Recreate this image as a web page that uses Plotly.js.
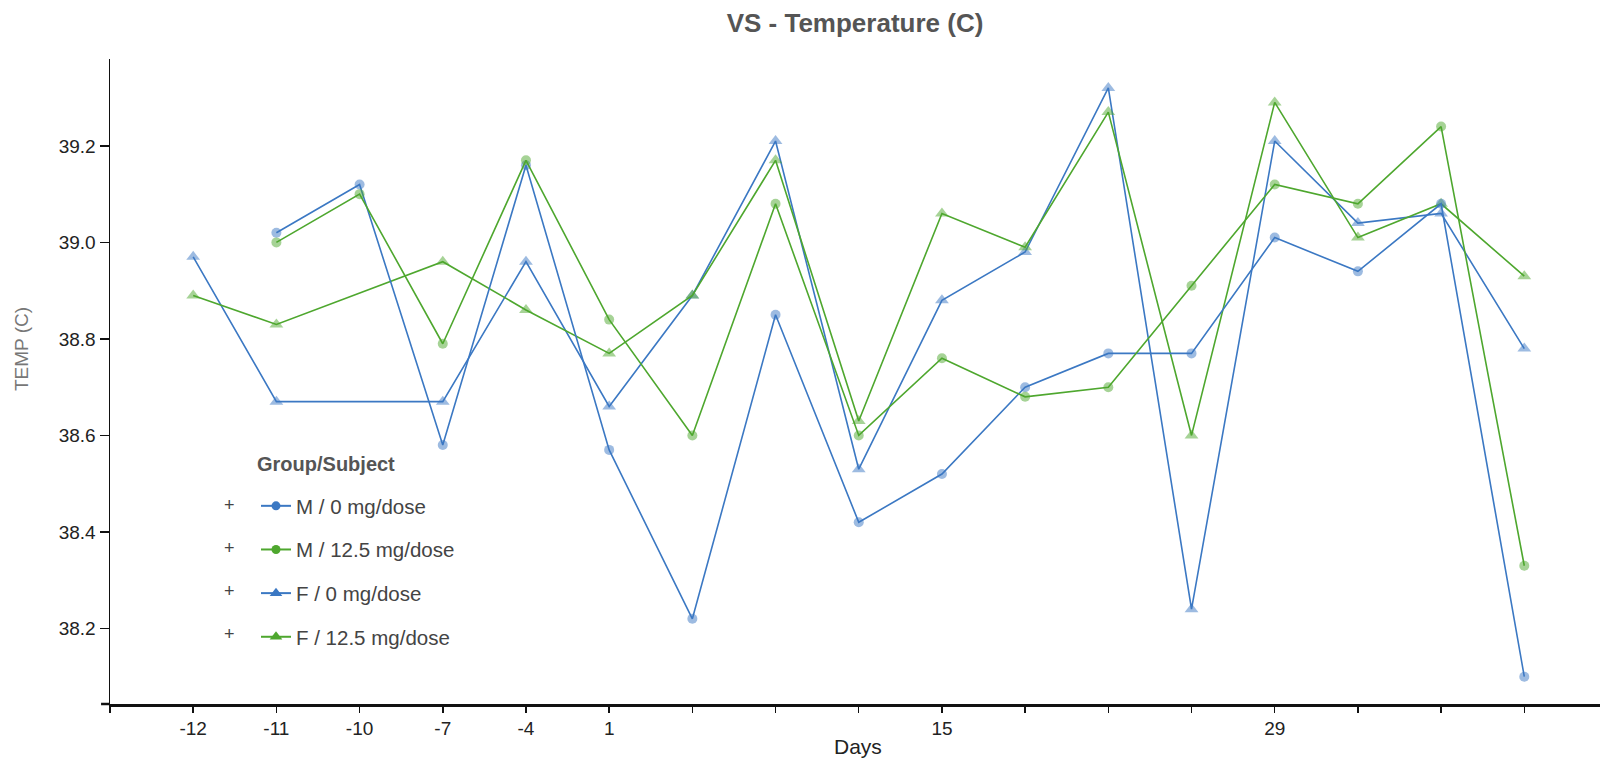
<!DOCTYPE html>
<html>
<head>
<meta charset="utf-8">
<script src="https://cdn.plot.ly/plotly-3.0.1.min.js"></script>
<style>html,body{margin:0;padding:0;background:#fff;}#chart{width:1600px;height:763px;}</style>
</head>
<body>
<div id="chart"></div>
<script>
// Day categories (only some carry a visible label in the original)
var dayLabels = ["-12","-11","-10","-7","-4","1","","","","15","","","","29","","",""];
// Series values (TEMP, C); null = no measurement at that day
var m0   = [null, 39.02, 39.12, 38.58, 39.16, 38.57, 38.22, 38.85, 38.42, 38.52, 38.70, 38.77, 38.77, 39.01, 38.94, 39.08, 38.10];
var m125 = [null, 39.00, 39.10, 38.79, 39.17, 38.84, 38.60, 39.08, 38.60, 38.76, 38.68, 38.70, 38.91, 39.12, 39.08, 39.24, 38.33];
var f0   = [38.97, 38.67, null, 38.67, 38.96, 38.66, 38.89, 39.21, 38.53, 38.88, 38.98, 39.32, 38.24, 39.21, 39.04, 39.06, 38.78];
var f125 = [38.89, 38.83, null, 38.96, 38.86, 38.77, 38.89, 39.17, 38.63, 39.06, 38.99, 39.27, 38.60, 39.29, 39.01, 39.08, 38.93];
var seriesNames = ["M / 0 mg/dose", "M / 12.5 mg/dose", "F / 0 mg/dose", "F / 12.5 mg/dose"];
var yTickVals = [38.2, 38.4, 38.6, 38.8, 39.0, 39.2];
var yTickText = ["38.2", "38.4", "38.6", "38.8", "39.0", "39.2"];

var BLUE = "#3b78c3", GREEN = "#4ea72e";
var FONT = "Liberation Sans, Arial, sans-serif";
var xpos = dayLabels.map(function(_, i){ return i + 1; });

function dataTrace(y, color, symbol, size){
  return {x: xpos, y: y, type: "scatter", mode: "lines+markers", connectgaps: true,
    showlegend: false, hoverinfo: "x+y",
    line: {color: color, width: 1.6},
    marker: {color: color, symbol: symbol, size: size, opacity: 0.5}};
}
function legendTrace(name, color, symbol, size){
  return {x: [null], y: [null], type: "scatter", mode: "lines+markers", name: name,
    legendgroup: name, showlegend: true,
    line: {color: color, width: 2}, marker: {color: color, symbol: symbol, size: size}};
}

var traces = [
  dataTrace(f0, BLUE, "triangle-up", 12),
  dataTrace(f125, GREEN, "triangle-up", 12),
  dataTrace(m0, BLUE, "circle", 10),
  dataTrace(m125, GREEN, "circle", 10),
  legendTrace(seriesNames[0], BLUE, "circle", 9),
  legendTrace(seriesNames[1], GREEN, "circle", 9),
  legendTrace(seriesNames[2], BLUE, "triangle-up", 11),
  legendTrace(seriesNames[3], GREEN, "triangle-up", 11)
];

var tickvals = [0].concat(xpos);
var ticktext = [""].concat(dayLabels);

function px2x(px){ return (px - 110) / 1490; }
function py2y(py){ return (704 - py) / 645; }

var plusAnn = [0,1,2,3].map(function(i){
  return {xref: "paper", yref: "paper", x: px2x(229), y: py2y(505 + i*43),
    text: "+", showarrow: false, font: {family: FONT, size: 18, color: "#444"},
    xanchor: "center", yanchor: "middle"};
});

var layout = {
  width: 1600, height: 763,
  margin: {l: 110, r: 0, t: 59, b: 59},
  paper_bgcolor: "#fff", plot_bgcolor: "#fff",
  font: {family: FONT, size: 19, color: "#222"},
  title: {text: "<b>VS - Temperature (C)</b>", x: 0.5, xref: "paper", y: 0.97, yanchor: "middle",
    font: {family: FONT, size: 26, color: "#555"}},
  xaxis: {range: [0, 17.91], tickvals: tickvals, ticktext: ticktext, showgrid: false, zeroline: false,
    showline: true, linecolor: "#111", linewidth: 2.5, ticks: "outside", ticklen: 6, tickwidth: 1.5,
    tickcolor: "#111", tickfont: {size: 19, color: "#222"}, fixedrange: true},
  yaxis: {range: [38.0435, 39.38], tickvals: yTickVals, ticktext: yTickText,
    showgrid: false, zeroline: false,
    showline: true, linecolor: "#111", linewidth: 1.5, ticks: "outside", ticklen: 9, tickwidth: 1.5,
    tickcolor: "#111", tickfont: {size: 19, color: "#222"}},
  legend: {x: px2x(256), y: py2y(486), xanchor: "left", yanchor: "top",
    bgcolor: "rgba(0,0,0,0)", font: {family: FONT, size: 20.5, color: "#444"}, tracegroupgap: 14,
    traceorder: "grouped", itemwidth: 30},
  annotations: plusAnn.concat([
    {xref: "paper", yref: "paper", x: px2x(255), y: py2y(464), text: "<b>Group/Subject</b>",
     showarrow: false, xanchor: "left", yanchor: "middle", font: {family: FONT, size: 20, color: "#555"}},
    {xref: "paper", yref: "paper", x: px2x(858), y: py2y(746), text: "Days", showarrow: false,
     xanchor: "center", yanchor: "middle", font: {family: FONT, size: 21, color: "#222"}},
    {xref: "paper", yref: "paper", x: px2x(21), y: py2y(349), text: "TEMP (C)", showarrow: false,
     textangle: -90, xanchor: "center", yanchor: "middle", font: {family: FONT, size: 19, color: "#777"}}
  ]),
  shapes: [
    {type: "line", xref: "paper", yref: "paper", x0: -0.006, x1: 0, y0: 0, y1: 0,
     line: {color: "#111", width: 2.5}}
  ]
};

Plotly.newPlot("chart", traces, layout, {displayModeBar: false, staticPlot: true});
</script>
</body>
</html>
